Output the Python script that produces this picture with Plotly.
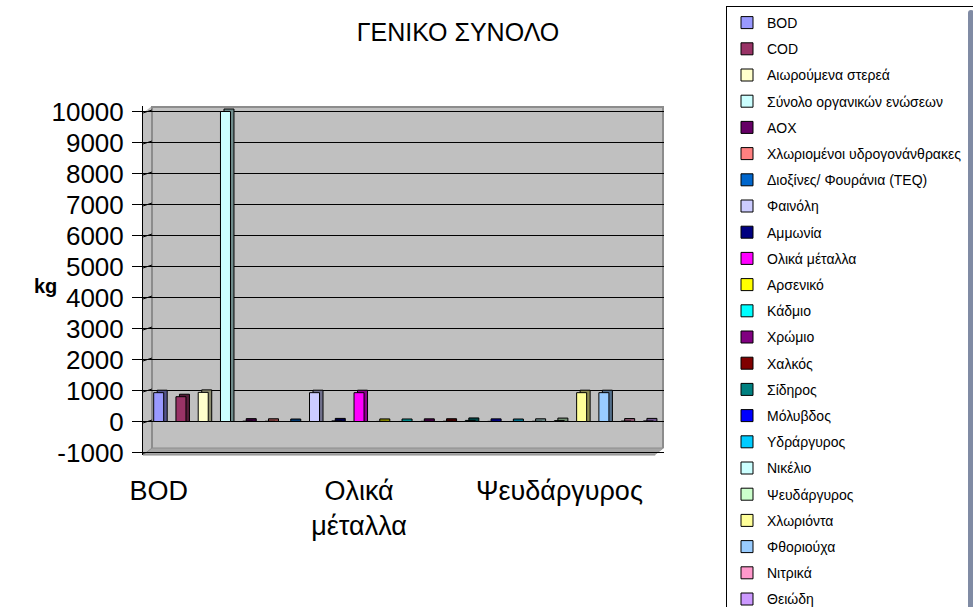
import plotly.graph_objects as go

# ---- data -------------------------------------------------------------
categories = [
    "BOD", "COD", "Αιωρούμενα στερεά", "Σύνολο οργανικών ενώσεων", "AOX",
    "Χλωριομένοι υδρογονάνθρακες", "Διοξίνες/ Φουράνια (TEQ)", "Φαινόλη",
    "Αμμωνία", "Ολικά μέταλλα", "Αρσενικό", "Κάδμιο", "Χρώμιο", "Χαλκός",
    "Σίδηρος", "Μόλυβδος", "Υδράργυρος", "Νικέλιο", "Ψευδάργυρος",
    "Χλωριόντα", "Φθοριούχα", "Νιτρικά", "Θειώδη",
]
values_kg = [930, 800, 940, 10000, 12, 8, 0.001, 930,
             20, 930, 3, 1, 6, 9,
             35, 5, 0.5, 7, 30,
             930, 930, 15, 20]
series_colors = [
    "#9999FF", "#993366", "#FFFFCC", "#CCFFFF", "#660066",
    "#FF8080", "#0066CC", "#CCCCFF", "#000080", "#FF00FF",
    "#FFFF00", "#00FFFF", "#800080", "#800000", "#008080",
    "#0000FF", "#00CCFF", "#CCFFFF", "#CCFFCC", "#FFFF99",
    "#99CCFF", "#FF99CC", "#CC99FF",
]
axis_labels = {"BOD": "BOD", "Ολικά μέταλλα": "Ολικά<br>μέταλλα",
               "Ψευδάργυρος": "Ψευδάργυρος"}
y_tick_values = list(range(-1000, 10001, 1000))
y_tick_text = [str(v) for v in y_tick_values]

# ---- geometry of the page (pixels) -----------------------------------
W, H = 973, 607
L, R, T, B = 143, 664, 106, 455      # plot box
DEPTH_X, DEPTH_Y = 9, 7              # wall depth
ZERO_PX, PX_PER_KG = 421.5, 0.031
CAT_W, FIRST_CENTER = 22.26, 158.7

ymin = -(B - ZERO_PX) / PX_PER_KG
ymax = (ZERO_PX - T) / PX_PER_KG
xmin = -(FIRST_CENTER - L) / CAT_W
xmax = xmin + (R - L) / CAT_W
boundary_ticks = [xmin + k for k in range(len(categories) + 1)]


def px(x):
    return x / W


def py(y):
    return 1 - y / H


def darker(hex_color, f=0.55):
    h = hex_color.lstrip("#")
    r, g, b = (int(h[i:i + 2], 16) for i in (0, 2, 4))
    return f"rgb({int(r * f)},{int(g * f)},{int(b * f)})"


FONT = "Liberation Sans, Arial, sans-serif"
BAR_W = 0.45
SIDE_DX = 0.157          # side face shift (category units)
TOP_DY = 80              # top face rise (kg units)

fig = go.Figure()

# side/top faces drawn behind the front faces
for name, val, col in zip(categories, values_kg, series_colors):
    fig.add_trace(go.Bar(
        x=[name], y=[val + TOP_DY], base=[0],
        offset=-BAR_W / 2 + SIDE_DX, width=BAR_W,
        marker=dict(color=darker(col), line=dict(color="black", width=1)),
        showlegend=False, hoverinfo="skip",
    ))

# front faces
for name, val, col in zip(categories, values_kg, series_colors):
    fig.add_trace(go.Bar(
        x=[name], y=[val], name=name, legendgroup=name,
        offset=-BAR_W / 2, width=BAR_W,
        marker=dict(color=col, line=dict(color="black", width=1)),
    ))

shapes = []
# left side wall (covers gridlines in the depth strip)
shapes.append(dict(
    type="path", xref="paper", yref="paper", layer="between",
    path=(f"M{px(L)},{py(T)} L{px(L + DEPTH_X)},{py(T)} L{px(L + DEPTH_X)},{py(B - DEPTH_Y)} "
          f"L{px(L)},{py(B)} Z"),
    fillcolor="#C0C0C0", line=dict(width=0),
))
shapes.append(dict(
    type="path", xref="paper", yref="paper", layer="between",
    path=f"M{px(L)},{py(T)} L{px(L + DEPTH_X)},{py(T)} L{px(L)},{py(T + DEPTH_Y)} Z",
    fillcolor="white", line=dict(width=0),
))
shapes.append(dict(
    type="line", xref="paper", yref="paper", layer="between",
    x0=px(L + DEPTH_X), x1=px(L + DEPTH_X), y0=py(T), y1=py(B - DEPTH_Y),
    line=dict(color="#8C8C8C", width=2),
))
# small slanted ticks on the side wall
for v in y_tick_values:
    yf = ZERO_PX + 1.5 - v * PX_PER_KG
    shapes.append(dict(
        type="line", xref="paper", yref="paper", layer="between",
        x0=px(L), x1=px(L + DEPTH_X), y0=py(yf), y1=py(yf - 3),
        line=dict(color="black", width=1),
    ))
# back wall border
shapes.append(dict(
    type="line", xref="paper", yref="paper", layer="between",
    x0=px(L + DEPTH_X), x1=px(R), y0=py(T + 1), y1=py(T + 1),
    line=dict(color="#8C8C8C", width=2),
))
shapes.append(dict(
    type="line", xref="paper", yref="paper", layer="between",
    x0=px(R - 1), x1=px(R - 1), y0=py(T), y1=py(B - DEPTH_Y),
    line=dict(color="#8C8C8C", width=2),
))
# floor slab front edge
shapes.append(dict(
    type="path", xref="paper", yref="paper", layer="between",
    path=(f"M{px(L)},{py(B)} L{px(R - DEPTH_X)},{py(B)} L{px(R)},{py(B - DEPTH_Y)} "
          f"L{px(L + DEPTH_X)},{py(B - DEPTH_Y)} Z"),
    fillcolor="#A6A6A6", line=dict(color="#8C8C8C", width=1),
))
shapes.append(dict(
    type="path", xref="paper", yref="paper", layer="between",
    path=f"M{px(R - DEPTH_X)},{py(B)} L{px(R)},{py(B)} L{px(R)},{py(B - DEPTH_Y)} Z",
    fillcolor="white", line=dict(width=0),
))

fig.update_layout(
    width=W, height=H,
    margin=dict(l=0, r=0, t=0, b=0, autoexpand=False),
    paper_bgcolor="white", plot_bgcolor="#C0C0C0",
    barmode="overlay",
    font=dict(family=FONT, color="black"),
    title=dict(text="ΓΕΝΙΚΟ ΣΥΝΟΛΟ", x=458 / W, xanchor="center",
               y=1 - 32 / H, yanchor="middle",
               font=dict(size=25, family=FONT)),
    xaxis=dict(
        type="category", categoryorder="array", categoryarray=categories,
        domain=[px(L), px(R)], range=[xmin, xmax],
        tickvals=list(axis_labels.keys()), ticktext=list(axis_labels.values()),
        ticks="", showgrid=False, showline=False, zeroline=False,
        tickfont=dict(size=27), ticklabelstandoff=17,
    ),
    xaxis2=dict(
        overlaying="x", anchor="y", side="bottom", type="linear",
        domain=[px(L), px(R)], range=[xmin, xmax],
        tickvals=boundary_ticks, ticks="outside", ticklen=5,
        tickcolor="#404040", showticklabels=False, showgrid=False,
        showline=True, linecolor="#8C8C8C", zeroline=False,
    ),
    xaxis3=dict(
        overlaying="x", anchor="free", position=py(ZERO_PX + 1.5), side="bottom",
        type="linear", domain=[px(L), px(R)], range=[xmin, xmax],
        tickvals=boundary_ticks, ticks="outside", ticklen=5,
        tickcolor="#404040", showticklabels=False, showgrid=False,
        showline=False, zeroline=False,
    ),
    yaxis=dict(
        domain=[py(B), py(T)], range=[ymin, ymax],
        tickvals=y_tick_values, ticktext=y_tick_text,
        ticks="outside", ticklen=10, tickcolor="black",
        showline=True, linecolor="black", linewidth=1,
        showgrid=True, gridcolor="black", gridwidth=1, zeroline=False,
        tickfont=dict(size=26), ticklabelstandoff=3,
    ),
    legend=dict(
        x=px(726), xanchor="left", y=py(6), yanchor="top",
        bgcolor="white", bordercolor="black", borderwidth=1,
        font=dict(size=14, family=FONT), tracegroupgap=5,
        traceorder="grouped",
    ),
    shapes=shapes,
    annotations=[dict(
        text="<b>kg</b>", xref="paper", yref="paper",
        x=px(45), y=py(286), xanchor="center", yanchor="middle",
        showarrow=False, font=dict(size=20, family=FONT),
    )],
)

fig.write_html("out.html")
